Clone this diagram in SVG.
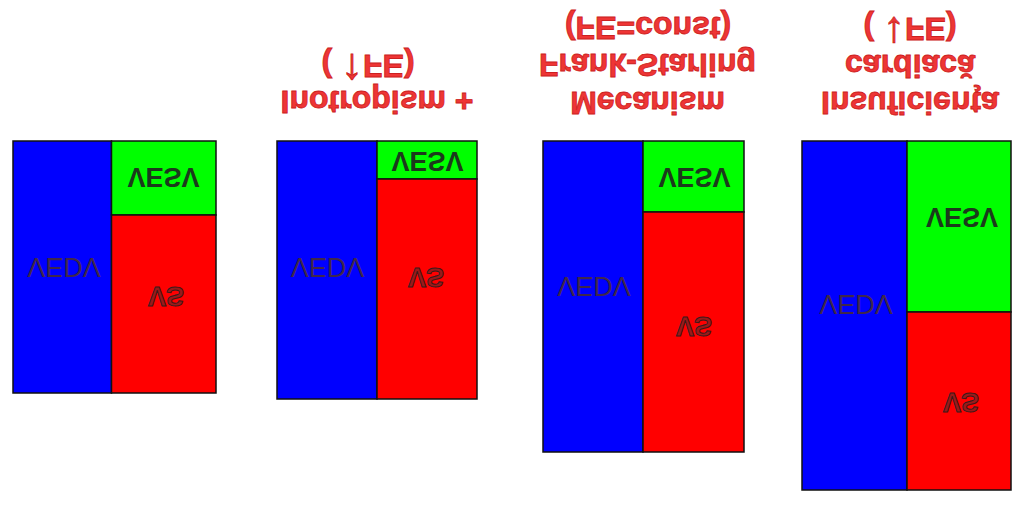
<svg xmlns="http://www.w3.org/2000/svg" width="1024" height="505" viewBox="0 0 1024 505">
<style>
  .blue{fill:#0000ff;stroke:#111;stroke-width:1.5}
  .green{fill:#00ff00;stroke:#111;stroke-width:1.5}
  .red{fill:#ff0000;stroke:#111;stroke-width:1.5}
  text{font-family:"Liberation Sans",Arial,sans-serif;text-anchor:middle}
  .vesv{font-size:27px;font-weight:bold;fill:#1c3a1c}
  .vedv{font-size:27px;fill:#40284a}
  .vs{font-size:27px;font-weight:bold;fill:#9a1a1a;stroke:#3a1a1a;stroke-width:1}
  .title{font-size:32px;font-weight:bold;fill:#ee3535;stroke:#cc2020;stroke-width:0.8}
  .arr{font-size:44px;font-weight:normal}
</style>
<rect width="1024" height="505" fill="#ffffff"/>
<g id="connectors"/>
<g id="node1">
  <rect class="blue" x="13" y="141" width="98.5" height="252"/>
  <rect class="green" x="111.5" y="141" width="104.5" height="74"/>
  <rect class="red" x="111.5" y="215" width="104.5" height="178"/>
  <text class="vesv" transform="translate(163.5,168) scale(1,-1)">VESV</text>
  <text class="vedv" transform="translate(64,258) scale(1,-1)">VEDV</text>
  <text class="vs" transform="translate(166,287) scale(1,-1)">VS</text>
</g>
<g id="node2">
  <rect class="blue" x="277" y="141" width="100" height="258"/>
  <rect class="green" x="377" y="141" width="100" height="38"/>
  <rect class="red" x="377" y="179" width="100" height="220"/>
  <text class="vesv" transform="translate(427.5,152) scale(1,-1)">VESV</text>
  <text class="vedv" transform="translate(327.5,258) scale(1,-1)">VEDV</text>
  <text class="vs" transform="translate(426,268) scale(1,-1)">VS</text>
  <text class="title" transform="translate(377,91) scale(1,-1)">Inotropism +</text>
  <text class="title" transform="translate(368,55) scale(1,-1)">( <tspan class="arr">↑</tspan>FE)</text>
</g>
<g id="node3">
  <rect class="blue" x="543" y="141" width="100" height="311"/>
  <rect class="green" x="643" y="141" width="101" height="71"/>
  <rect class="red" x="643" y="212" width="101" height="240"/>
  <text class="vesv" transform="translate(694.5,168) scale(1,-1)">VESV</text>
  <text class="vedv" transform="translate(594,277) scale(1,-1)">VEDV</text>
  <text class="vs" transform="translate(694,317) scale(1,-1)">VS</text>
  <text class="title" transform="translate(647.5,92) scale(1,-1)">Mecanism</text>
  <text class="title" transform="translate(647.5,54) scale(1,-1)">Frank-Starling</text>
  <text class="title" transform="translate(648,17) scale(1,-1)">(FE=const)</text>
</g>
<g id="node4">
  <rect class="blue" x="802" y="141" width="105" height="349"/>
  <rect class="green" x="907" y="141" width="104" height="171"/>
  <rect class="red" x="907" y="312" width="104" height="178"/>
  <text class="vesv" transform="translate(962,208) scale(1,-1)">VESV</text>
  <text class="vedv" transform="translate(856,295) scale(1,-1)">VEDV</text>
  <text class="vs" transform="translate(961,393) scale(1,-1)">VS</text>
  <text class="title" transform="translate(910,92) scale(1,-1)">Insuficienţa</text>
  <text class="title" transform="translate(910,55) scale(1,-1)">cardiacă</text>
  <text class="title" transform="translate(910,18) scale(1,-1)">( <tspan class="arr">↓</tspan>FE)</text>
</g>
</svg>
